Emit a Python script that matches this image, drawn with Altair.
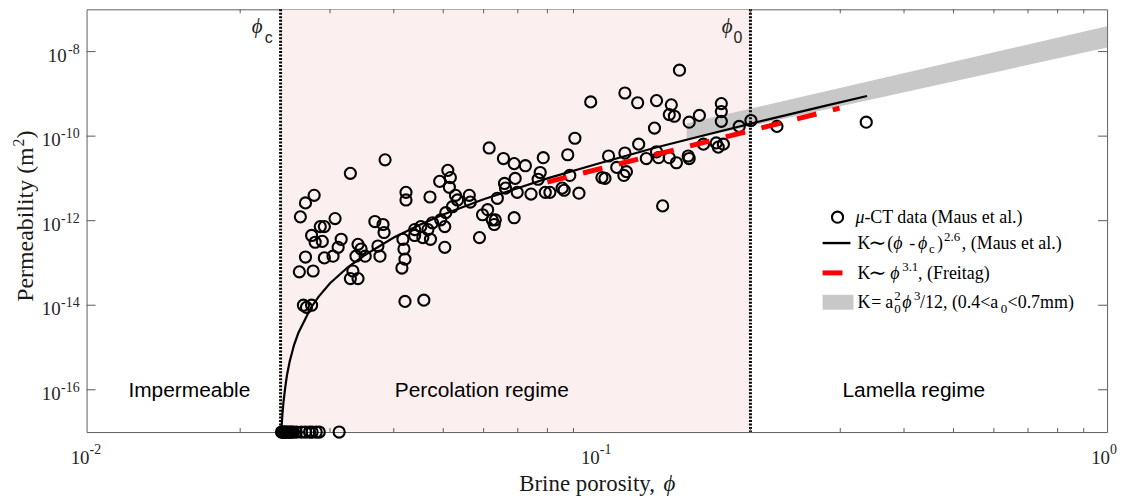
import altair as alt
import pandas as pd
import numpy as np

W, H = 1026, 425
SERIF = "Liberation Serif, Times New Roman, DejaVu Serif, serif"
SANS = "Liberation Sans, Arial, Helvetica, sans-serif"

# ---------------- data ----------------
# mu-CT data (Maus et al.), read on the log axes (log10 of porosity, log10 of permeability)
log10_phi = [-1.415, -1.483, -1.554, -1.571, -1.581, -1.374, -1.374, -1.513, -1.542, -1.534,
             -1.559, -1.552, -1.538, -1.501, -1.507, -1.517, -1.534, -1.571, -1.583, -1.556,
             -1.468, -1.462, -1.472, -1.454, -1.478, -1.483, -1.468, -1.435, -1.419, -1.417,
             -1.429, -1.425, -1.380, -1.378, -1.376, -1.382, -1.575, -1.559, -1.569, -1.376,
             -1.339, -1.211, -1.183, -1.162, -1.140, -1.105, -1.111, -1.160, -1.181, -1.179,
             -1.156, -1.129, -1.101, -1.195, -1.292, -1.287, -1.308, -1.289, -1.277, -1.273,
             -1.250, -1.248, -1.327, -1.283, -1.296, -1.306, -1.298, -1.322, -1.331, -1.345,
             -1.357, -1.341, -1.326, -1.214, -1.224, -1.205, -1.199, -1.201, -1.162, -1.230,
             -1.298, -1.115, -0.838, -1.012, -0.945, -0.920, -0.883, -0.854, -0.858, -0.848,
             -0.887, -1.043, -1.057, -0.977, -0.945, -0.918, -0.961, -0.942, -0.947, -0.990,
             -0.984, -1.053, -1.068, -1.064, -1.092, -1.035, -0.903, -0.883, -0.879, -0.858,
             -0.844, -0.821, -0.819, -0.871, -0.819, -0.799, -0.756, -0.756, -0.756, -0.721,
             -0.698, -0.647, -0.472, -0.791, -0.766, -0.752, -0.762, -1.357]
log10_K = [-10.56, -10.88, -11.40, -11.58, -11.91, -11.33, -11.51, -11.95, -12.14, -12.14,
           -12.35, -12.51, -12.49, -12.44, -12.63, -12.84, -12.88, -12.86, -13.21, -13.19,
           -12.56, -12.67, -12.84, -12.84, -13.19, -13.37, -13.37, -12.02, -12.09, -12.28,
           -12.60, -12.84, -12.44, -12.67, -12.91, -13.12, -14.00, -14.00, -14.05, -13.91,
           -13.88, -10.28, -10.53, -10.65, -10.70, -10.51, -10.86, -11.00, -11.12, -11.23,
           -11.33, -11.37, -11.33, -11.47, -10.81, -10.98, -11.07, -11.21, -11.40, -11.51,
           -11.40, -11.56, -11.44, -11.67, -11.81, -11.98, -12.14, -12.05, -12.21, -12.14,
           -12.21, -12.40, -12.44, -11.74, -11.86, -11.98, -11.98, -12.09, -11.93, -12.40,
           -12.63, -11.02, -8.44, -9.19, -8.98, -9.21, -9.16, -9.26, -9.49, -9.53,
           -9.81, -10.05, -10.44, -10.47, -10.40, -10.19, -10.74, -10.84, -10.93, -10.98,
           -11.00, -10.93, -11.23, -11.28, -11.33, -11.35, -10.53, -10.37, -10.51, -10.51,
           -10.63, -10.47, -10.53, -11.65, -9.67, -9.51, -9.23, -9.42, -9.65, -9.77,
           -9.63, -9.77, -9.67, -10.19, -10.16, -10.19, -10.26, -12.35]
# impermeable samples drawn on the axis floor
floor_log10_phi = [-1.618, -1.616, -1.614, -1.612, -1.610, -1.607, -1.604, -1.601, -1.598,
                   -1.595, -1.589, -1.579, -1.571, -1.563, -1.558, -1.550, -1.544, -1.505]
K_floor = 1e-17

# K ~ (phi - phi_c)^2.6 (Maus et al.)
maus_phi = [0.024075, 0.0241, 0.0242, 0.0243, 0.0245, 0.0247, 0.025, 0.0255, 0.026, 0.0275,
            0.0285, 0.03, 0.0325, 0.035, 0.04, 0.045, 0.05, 0.06, 0.08, 0.1, 0.13, 0.17,
            0.22, 0.28, 0.3385]
maus_K = [1.0e-17, 1.25e-17, 2.6e-17, 4.7e-17, 1.1e-16, 2.2e-16, 4.6e-16, 1.14e-15, 2.2e-15,
          8.6e-15, 1.6e-14, 3.3e-14, 7.9e-14, 1.5e-13, 4.0e-13, 8.0e-13, 1.4e-12, 3.2e-12,
          1.0e-11, 2.2e-11, 5.3e-11, 1.2e-10, 2.6e-10, 5.2e-10, 8.9e-10]
# K ~ phi^3.1 (Freitag)
freitag_phi = [0.080, 0.299]
freitag_K = [8.2e-12, 4.6e-10]
# K = a0^2 phi^3 / 12, 0.4 < a0 < 0.7 mm
band_phi = [0.15, 1.0]
band_K_low = [8.0e-11, 1.25e-8]
band_K_high = [2.0e-10, 4.0e-8]

phi_c, phi_0 = 0.024, 0.2
x_ticks = [0.02, 0.03, 0.04, 0.05, 0.06, 0.07, 0.08, 0.09,
           0.2, 0.3, 0.4, 0.5, 0.6, 0.7, 0.8, 0.9]
x_label_vals = [0.01, 0.1, 1.0]
x_label_exp = ["-2", "-1", "0"]
y_label_vals = [1e-8, 1e-10, 1e-12, 1e-14, 1e-16]
y_label_exp = ["-8", "-10", "-12", "-14", "-16"]
regions = ["Impermeable", "Percolation regime", "Lamella regime"]
region_phi = [0.0159, 0.0595, 0.418]
region_K = [1e-16, 1e-16, 1e-16]

# ---------------- chart ----------------
xs = alt.Scale(type="log", domain=[0.01, 1], nice=False)
ys = alt.Scale(type="log", domain=[1e-17, 1e-7], nice=False)


def X(f):
    return alt.X(f, type="quantitative", scale=xs, axis=None)


def Y(f):
    return alt.Y(f, type="quantitative", scale=ys, axis=None)


def txt(s, x, y, size=18, style="normal", align="left", font=SERIF, angle=None,
        color="black"):
    kw = dict(align=align, baseline="alphabetic", fontSize=size, font=font,
              fontStyle=style, color=color)
    if angle is not None:
        kw["angle"] = angle
    return alt.Chart(pd.DataFrame({"t": [s]})).mark_text(**kw).encode(
        x=alt.value(x), y=alt.value(y), text="t:N")


one = pd.DataFrame({"d": [0]})
layers = []

# percolation regime shading
layers.append(alt.Chart(pd.DataFrame({"a": [phi_c], "b": [phi_0]})).mark_rect(
    color="#fcefef").encode(x=X("a"), x2=alt.X2("b"), y=alt.value(0.5), y2=alt.value(H - 0.5)))

# grey band
band_df = pd.DataFrame({"phi": band_phi, "lo": band_K_low, "hi": band_K_high})
layers.append(alt.Chart(band_df).mark_area(color="#c8c8c8", opacity=1).encode(
    x=X("phi"), y=Y("lo"), y2=alt.Y2("hi")))

# dotted phi_c, phi_0 lines
layers.append(alt.Chart(pd.DataFrame({"v": [phi_c, phi_0]})).mark_rule(
    color="black", strokeWidth=3, strokeDash=[2, 1.5]).encode(
    x=X("v"), y=alt.value(0), y2=alt.value(H)))

# ticks (inward, box style)
tick_col = "#5a5a5a"
xt = pd.DataFrame({"v": x_ticks})
layers.append(alt.Chart(xt).mark_rule(color=tick_col, strokeWidth=1).encode(
    x=X("v"), y=alt.value(H), y2=alt.value(H - 4)))
layers.append(alt.Chart(xt).mark_rule(color=tick_col, strokeWidth=1).encode(
    x=X("v"), y=alt.value(0), y2=alt.value(4)))
yt = pd.DataFrame({"v": y_label_vals})
layers.append(alt.Chart(yt).mark_rule(color=tick_col, strokeWidth=1).encode(
    y=Y("v"), x=alt.value(0), x2=alt.value(9)))
layers.append(alt.Chart(yt).mark_rule(color=tick_col, strokeWidth=1).encode(
    y=Y("v"), x=alt.value(W - 9), x2=alt.value(W)))

# data points
pts = pd.DataFrame({
    "phi": list(10 ** np.array(log10_phi)) + list(10 ** np.array(floor_log10_phi)),
    "K": list(10 ** np.array(log10_K)) + [K_floor] * len(floor_log10_phi),
})
layers.append(alt.Chart(pts).mark_point(shape="circle", filled=False, size=125,
                                         strokeWidth=2.1, color="black", opacity=1).encode(
    x=X("phi"), y=Y("K")))

# Maus curve
layers.append(alt.Chart(pd.DataFrame({"phi": maus_phi, "K": maus_K})).mark_line(
    color="black", strokeWidth=2.2).encode(x=X("phi"), y=Y("K")))
# Freitag dashed
layers.append(alt.Chart(pd.DataFrame({"phi": freitag_phi, "K": freitag_K})).mark_line(
    color="#ff0000", strokeWidth=5, strokeDash=[20, 17], strokeCap="butt").encode(
    x=X("phi"), y=Y("K")))

# regime labels
layers.append(alt.Chart(pd.DataFrame({"t": regions, "phi": region_phi, "K": region_K})).mark_text(
    font=SANS, fontSize=21, align="center", baseline="alphabetic", dy=7, color="black").encode(
    x=X("phi"), y=Y("K"), text="t:N"))

# phi_c and phi_0 labels
for v, sub in [(phi_c, "c"), (phi_0, "0")]:
    d = pd.DataFrame({"v": [v], "t": ["\u03d5"], "s": [sub]})
    layers.append(alt.Chart(d).mark_text(font=SERIF, fontStyle="italic", fontSize=21,
                                         align="right", baseline="alphabetic", dx=-18,
                                         color="#222").encode(
        x=X("v"), y=alt.value(24), text="t:N"))
    layers.append(alt.Chart(d).mark_text(font=SANS, fontSize=16, align="right",
                                         baseline="alphabetic", dx=-8, color="#222").encode(
        x=X("v"), y=alt.value(34), text="s:N"))

# x tick labels
lab_col = "#262626"
xl = pd.DataFrame({"v": x_label_vals, "e": x_label_exp})
layers.append(alt.Chart(xl).mark_text(font=SERIF, fontSize=19, align="right",
                                      baseline="alphabetic", dx=3, color=lab_col).encode(
    x=X("v"), y=alt.value(H + 32), text=alt.value("10")))
layers.append(alt.Chart(xl).mark_text(font=SERIF, fontSize=14, align="left",
                                      baseline="alphabetic", dx=3, color=lab_col).encode(
    x=X("v"), y=alt.value(H + 22), text="e:N"))

# y tick labels
yl = pd.DataFrame({"v": y_label_vals, "e": y_label_exp})
layers.append(alt.Chart(yl).mark_text(font=SERIF, fontSize=14, align="right",
                                      baseline="alphabetic", dy=2, color=lab_col).encode(
    y=Y("v"), x=alt.value(-7), text="e:N"))
layers.append(alt.Chart(yl.iloc[:1]).mark_text(font=SERIF, fontSize=19, align="right",
                                               baseline="alphabetic", dy=10, color=lab_col).encode(
    y=Y("v"), x=alt.value(-20), text=alt.value("10")))
layers.append(alt.Chart(yl.iloc[1:]).mark_text(font=SERIF, fontSize=19, align="right",
                                               baseline="alphabetic", dy=10, color=lab_col).encode(
    y=Y("v"), x=alt.value(-26), text=alt.value("10")))

# axis titles
layers.append(txt("Brine porosity, ", 435, 484, size=23, color="#1a1a1a"))
layers.append(txt("\u03d5", 580, 484, size=23, style="italic", color="#1a1a1a"))
layers.append(txt("Permeability (m", -54, 294, size=24, angle=270, color="#1a1a1a"))
layers.append(txt("2", -63, 138, size=16, angle=270, color="#1a1a1a"))
layers.append(txt(")", -54, 130, size=24, angle=270, color="#1a1a1a"))

# legend glyphs
layers.append(alt.Chart(one).mark_point(shape="circle", filled=False, size=125,
                                        strokeWidth=2.1, color="black", opacity=1).encode(
    x=alt.value(755), y=alt.value(209)))
layers.append(alt.Chart(one).mark_rule(color="black", strokeWidth=2.4).encode(
    x=alt.value(740), x2=alt.value(768), y=alt.value(235)))
layers.append(alt.Chart(one).mark_rule(color="#ff0000", strokeWidth=5).encode(
    x=alt.value(740), x2=alt.value(760), y=alt.value(265)))
layers.append(alt.Chart(one).mark_rect(color="#c8c8c8").encode(
    x=alt.value(740), x2=alt.value(771), y=alt.value(287), y2=alt.value(302)))

# legend text
layers += [
    txt("\u03bc", 773, 215, style="italic"),
    txt("-CT data (Maus et al.)", 782, 215),
    # row 2
    txt("K", 775, 241),
    txt("\u223c", 795, 242, size=22, align="center"),
    txt("(", 805, 241),
    txt("\u03d5", 811, 241, style="italic"),
    txt("-", 830, 241, align="center"),
    txt("\u03d5", 836, 241, style="italic"),
    txt("c", 847, 245, size=13),
    txt(")", 855, 241),
    txt("2.6", 862, 233, size=13),
    txt(", (Maus et al.)", 880, 241),
    # row 3
    txt("K", 775, 271),
    txt("\u223c", 795, 272, size=22, align="center"),
    txt("\u03d5", 808, 271, style="italic"),
    txt("3.1", 820, 263, size=13),
    txt(", (Freitag)", 836, 271),
    # row 4
    txt("K", 775, 300),
    txt("=", 794, 300, align="center"),
    txt("a", 803, 300),
    txt("0", 812, 305, size=13),
    txt("2", 812, 292, size=13),
    txt("\u03d5", 820, 300, style="italic"),
    txt("3", 832, 292, size=13),
    txt("/12, (0.4<a", 838, 300),
    txt("0", 919, 305, size=13),
    txt("<0.7mm)", 926, 300),
]

chart = alt.layer(*layers).properties(
    width=W, height=H,
    autosize=alt.AutoSizeParams(type="none"),
    padding={"left": 79, "top": 0, "right": 14, "bottom": 66},
).configure_view(stroke="#5f5f5f", strokeWidth=1)

chart.save("out.html", embed_options={"renderer": "svg", "actions": False})
